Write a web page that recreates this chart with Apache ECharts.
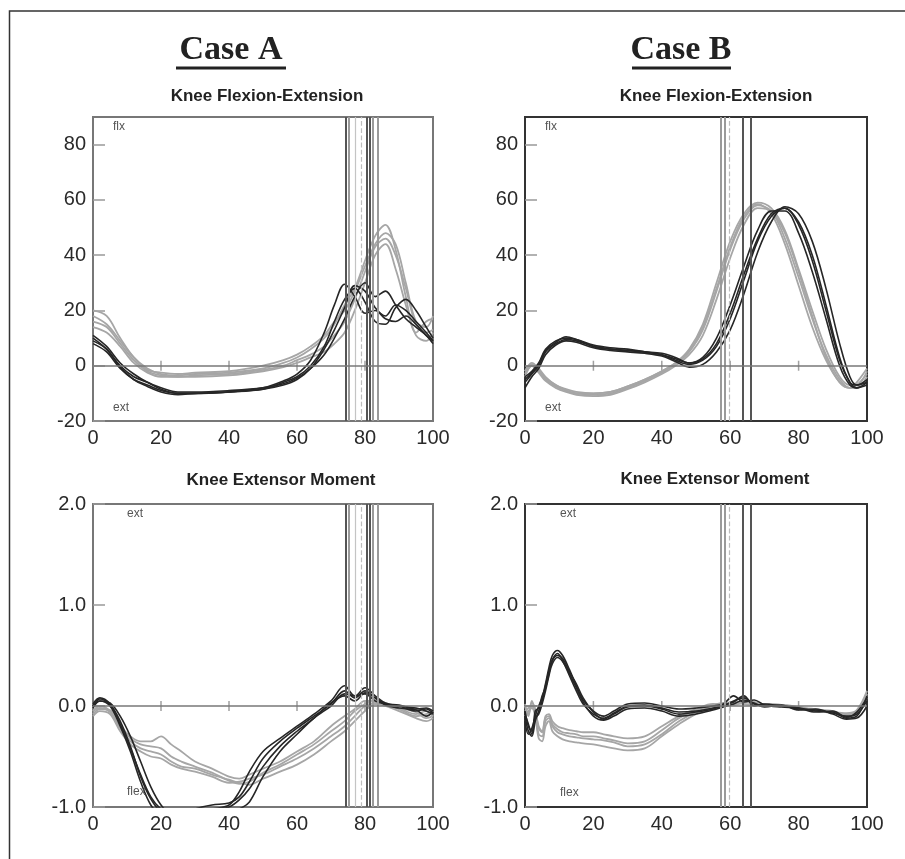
<!DOCTYPE html>
<html><head><meta charset="utf-8">
<script src="https://cdn.jsdelivr.net/npm/echarts@6/dist/echarts.min.js"></script>
<style>html,body{margin:0;padding:0;background:#fff}#c{width:905px;height:859px}</style>
</head><body><div id="c"></div>
<script>
// ---- Case A, Knee Flexion-Extension (deg) ----
const xA1 = [0,4,8,12,16,20,25,30,40,50,56,60,64,68,71,74,77,80,83,86,89,92,95,98,100];
const aFlexBlack1 = [10,6,0,-4,-6,-8.5,-10,-10,-9.5,-8,-5.5,-3,2,12,22,29.5,25,19,20,17,16,18,15,11,9];
const aFlexBlack2 = [8,5,-1,-5,-7,-9,-10,-10,-9.5,-8.5,-7,-5,-1,6,13,21,29,27,21,18,22,20,16,12,9];
const aFlexBlack3 = [11,7,1,-3,-6,-8,-9.5,-9.5,-9,-8,-6.5,-4.5,-1,4,10,17,25,30,25,27,22,17,14,11,8];
const aFlexBlack4 = [9,6,-0.5,-5,-7.5,-9.5,-10.5,-10,-9.5,-8.5,-6,-4,0,7,16,24,28,23,16,15,21,24,20,14,10];
const aFlexGray1 = [20,18,10,3,-1,-3,-3.5,-3,-2.5,-1,1,3,6,10,15,22,28,38,47,51,42,25,12,16,17];
const aFlexGray2 = [16,14,8,2,-2,-3.5,-4,-3.5,-3,-1.5,0,2,4,7,11,16,24,34,43,46,40,28,15,12,13];
const aFlexGray3 = [14,12,7,1,-2.5,-4,-4,-4,-3.5,-2,-0.5,1,3,5,8,12,20,30,40,44,35,22,11,9,12];
const aFlexGray4 = [18,15,9,3,-1.5,-2.5,-3,-2.5,-2,0,2,4,7,11,16,20,27,36,44,48,44,30,16,14,18];

// ---- Case B, Knee Flexion-Extension (deg) ----
const xB1 = [0,2,4,6,9,12,15,20,25,30,35,40,44,48,52,56,60,64,68,72,76,80,84,88,92,95,97,100];
const bFlexBlack1 = [-6,-3,0,5,8,9.5,9,7,6,5.5,5,4,2,0.5,2,7,17,31,45,54,57,52,40,22,3,-6,-7,-5];
const bFlexBlack2 = [-4,-2,1,6,9,10,9.5,7.5,6.5,6,5,4,2.5,1,3,10,22,36,49,56,56,48,34,17,0,-7,-8,-6];
const bFlexBlack3 = [-8,-4,-1,4,7.5,9,8.5,6.5,5.5,5,4.5,3.5,1.5,-0.5,0.5,5,13,26,41,52,57.5,55,45,28,8,-4,-7,-6];
const bFlexBlack4 = [-5,-2.5,0.5,5.5,8.5,10.5,9.5,7,6,5.5,5,4.5,3,1,2.5,8,19,33,46,55,57,51,38,20,2,-6,-8,-7];
const bFlexGray1 = [-3,0,-2,-5,-7.5,-9,-10,-10.5,-10,-8,-5.5,-2.5,0.5,5,13,27,42,53,58,56,46,32,17,4,-5,-8,-7,-3];
const bFlexGray2 = [-2,1,-1,-4,-7,-8.5,-9.5,-10,-9.5,-7.5,-5,-2,1,6,15,30,45,55,59,57,49,35,20,6,-4,-7,-7,-2];
const bFlexGray3 = [-4,0,-2.5,-5.5,-8,-9.5,-10.5,-11,-10.5,-8.5,-6,-3,0,4,11,24,39,51,57,56,48,34,18,3,-6,-8,-8,-4];
const bFlexGray4 = [-2,0.5,-1.5,-4.5,-7,-9,-10,-10,-9.5,-7.5,-5,-2,1,5.5,14,28,43,54,58.5,55,44,29,14,2,-6,-8,-6,-1];

// ---- Case A, Knee Extensor Moment ----
const xA2 = [0,2,5,8,11,14,17,20,23,26,30,35,40,43,46,50,55,60,65,70,74,77,80,83,86,90,95,98,100];
const aMomBlack1 = [0,0.05,0,-0.2,-0.45,-0.75,-0.98,-1.08,-1.1,-1.1,-1.05,-1.02,-0.98,-0.85,-0.65,-0.45,-0.32,-0.2,-0.08,0.05,0.2,0.1,0.12,0.05,0.02,0,-0.02,-0.05,-0.08];
const aMomBlack2 = [0.02,0.08,0.02,-0.15,-0.4,-0.7,-0.92,-1.05,-1.1,-1.08,-1.02,-0.98,-0.96,-0.9,-0.75,-0.52,-0.35,-0.22,-0.1,0.02,0.15,0.08,0.15,0.08,0.02,0.01,-0.03,-0.02,-0.05];
const aMomBlack3 = [-0.02,0.05,0.03,-0.1,-0.3,-0.55,-0.8,-0.98,-1.08,-1.1,-1.1,-1.08,-1.05,-1.02,-0.95,-0.7,-0.45,-0.28,-0.12,0,0.12,0.1,0.18,0.1,0.03,0,-0.05,-0.03,-0.07];
const aMomBlack4 = [0,0.07,0.01,-0.18,-0.42,-0.68,-0.9,-1.02,-1.06,-1.05,-1.04,-1.03,-1,-0.93,-0.82,-0.6,-0.4,-0.25,-0.12,0.03,0.1,0.05,0.13,0.08,0.01,-0.02,-0.04,-0.1,-0.06];
const aMomGray1 = [-0.05,0,-0.05,-0.2,-0.3,-0.35,-0.35,-0.3,-0.38,-0.45,-0.55,-0.62,-0.7,-0.72,-0.68,-0.62,-0.55,-0.45,-0.35,-0.2,-0.1,-0.03,0.05,0.05,0.02,-0.02,-0.08,-0.05,-0.1];
const aMomGray2 = [-0.1,-0.05,-0.08,-0.25,-0.38,-0.45,-0.5,-0.52,-0.58,-0.62,-0.65,-0.7,-0.76,-0.75,-0.72,-0.68,-0.6,-0.52,-0.42,-0.3,-0.2,-0.1,0,0.03,0,-0.05,-0.12,-0.15,-0.12];
const aMomGray3 = [-0.05,-0.02,-0.06,-0.22,-0.35,-0.42,-0.45,-0.48,-0.55,-0.6,-0.62,-0.68,-0.73,-0.76,-0.78,-0.72,-0.65,-0.58,-0.48,-0.35,-0.25,-0.15,-0.05,0.02,0.01,-0.03,-0.1,-0.08,-0.05];
const aMomGray4 = [-0.08,-0.03,-0.04,-0.18,-0.32,-0.38,-0.4,-0.42,-0.5,-0.55,-0.6,-0.66,-0.74,-0.77,-0.75,-0.66,-0.58,-0.48,-0.38,-0.25,-0.15,-0.05,0.02,0.06,0.03,-0.02,-0.06,-0.12,-0.1];

// ---- Case B, Knee Extensor Moment ----
const xB2 = [0,1,2,3,4,5,6,7,8,9.5,11,13,15,17,20,23,26,30,35,40,45,50,55,58,61,64,67,70,75,80,85,90,94,97,100];
const bMomBlack1 = [-0.1,-0.25,-0.3,-0.15,-0.05,0.05,0.2,0.35,0.46,0.52,0.45,0.3,0.15,0.02,-0.08,-0.12,-0.07,0,0.01,-0.02,-0.06,-0.05,-0.02,0,0.05,0.08,0.02,0,0,-0.03,-0.04,-0.07,-0.1,-0.08,0.05];
const bMomBlack2 = [-0.05,-0.2,-0.25,-0.1,0,0.08,0.22,0.38,0.5,0.55,0.5,0.36,0.2,0.06,-0.05,-0.1,-0.05,0.02,0.03,0,-0.03,-0.02,0,0.02,0.1,0.04,0.06,0.01,-0.01,-0.02,-0.05,-0.06,-0.12,-0.1,0.1];
const bMomBlack3 = [-0.15,-0.28,-0.22,-0.12,-0.08,0.02,0.15,0.3,0.42,0.48,0.44,0.32,0.18,0.04,-0.1,-0.14,-0.1,-0.03,-0.02,-0.05,-0.1,-0.08,-0.04,-0.01,0.02,0.06,0.03,-0.01,0.01,-0.04,-0.03,-0.08,-0.13,-0.12,0];
const bMomBlack4 = [-0.08,-0.18,-0.28,-0.05,-0.02,0.1,0.18,0.32,0.45,0.5,0.47,0.34,0.22,0.08,-0.06,-0.13,-0.08,-0.01,0,-0.03,-0.08,-0.06,-0.03,0.01,0.04,0.1,0,0.02,0,-0.02,-0.06,-0.05,-0.11,-0.06,0.08];
const bMomGray1 = [0,-0.1,0.05,-0.05,-0.2,-0.25,-0.1,-0.08,-0.15,-0.2,-0.22,-0.24,-0.25,-0.26,-0.26,-0.28,-0.3,-0.32,-0.3,-0.2,-0.1,-0.03,0.02,0.01,0.02,0.05,0.03,0.02,0,-0.02,-0.03,-0.06,-0.08,-0.05,0.1];
const bMomGray2 = [-0.05,-0.02,0,-0.08,-0.28,-0.3,-0.15,-0.12,-0.2,-0.26,-0.28,-0.3,-0.31,-0.32,-0.33,-0.34,-0.36,-0.4,-0.38,-0.28,-0.15,-0.06,0,0.02,0.04,0.02,0.01,0.02,0.01,-0.03,-0.04,-0.05,-0.1,-0.08,0.12];
const bMomGray3 = [-0.1,-0.05,-0.02,-0.1,-0.32,-0.35,-0.2,-0.15,-0.25,-0.3,-0.33,-0.35,-0.36,-0.37,-0.38,-0.4,-0.42,-0.44,-0.42,-0.3,-0.18,-0.08,-0.02,0,0.03,0.04,0.02,0,0,-0.02,-0.05,-0.07,-0.09,-0.06,0.08];
const bMomGray4 = [0.02,-0.08,0.03,-0.03,-0.22,-0.26,-0.12,-0.1,-0.18,-0.23,-0.26,-0.27,-0.28,-0.3,-0.3,-0.32,-0.34,-0.37,-0.35,-0.24,-0.12,-0.04,0.01,0.03,0.01,0.03,0.04,0.01,0.01,-0.01,-0.04,-0.06,-0.07,-0.04,0.15];

// ---- Gait event lines (% of cycle) ----
const eventsA = [74.2, 75.3, 77.2, 78.8, 80.5, 81.3, 82.2, 83.8];
const eventKindsA = ['dark','gray','light','dashed','dark','dark','gray','gray'];
const eventsB = [57.3, 58.3, 59.6, 63.6, 66.0];
const eventKindsB = ['gray','gray','dashed','dark','dark'];

// ---- Tick labels / axis ranges ----
const flexRange = [-20, 90, 20];
const momRange = [-1, 2, 1];
const zeroTicks = [20, 40, 60, 80];

const panelTitles = ['Knee Flexion-Extension','Knee Flexion-Extension','Knee Extensor Moment','Knee Extensor Moment'];
const caseTitles = ['Case A','Case B'];

// ---------------------------------------------------------
const BLACK = '#262626', GRAY = '#a6a6a6';
const evStyle = {
  dark:   {color:'#555', width:2, type:'solid'},
  gray:   {color:'#9a9a9a', width:2, type:'solid'},
  light:  {color:'#c4c4c4', width:1.2, type:'solid'},
  dashed: {color:'#bdbdbd', width:1.2, type:'dashed'}
};

const panels = [
  {x:xA1, black:[aFlexBlack1,aFlexBlack2,aFlexBlack3,aFlexBlack4], gray:[aFlexGray1,aFlexGray2,aFlexGray3,aFlexGray4], ev:eventsA, evk:eventKindsA},
  {x:xB1, black:[bFlexBlack1,bFlexBlack2,bFlexBlack3,bFlexBlack4], gray:[bFlexGray1,bFlexGray2,bFlexGray3,bFlexGray4], ev:eventsB, evk:eventKindsB},
  {x:xA2, black:[aMomBlack1,aMomBlack2,aMomBlack3,aMomBlack4], gray:[aMomGray1,aMomGray2,aMomGray3,aMomGray4], ev:eventsA, evk:eventKindsA},
  {x:xB2, black:[bMomBlack1,bMomBlack2,bMomBlack3,bMomBlack4], gray:[bMomGray1,bMomGray2,bMomGray3,bMomGray4], ev:eventsB, evk:eventKindsB}
];

const gridBoxes = [
  {left:93, top:117, width:340, height:304, borderColor:'#777'},
  {left:525, top:117, width:342, height:304, borderColor:'#333'},
  {left:93, top:504, width:340, height:303, borderColor:'#777'},
  {left:525, top:504, width:342, height:303, borderColor:'#333'}
];

const labelFont = {fontSize:20, color:'#2a2a2a', fontFamily:'"Liberation Sans", Arial, sans-serif'};

const option = {
  animation:false,
  backgroundColor:'#fff',
  grid: gridBoxes.map(g => ({left:g.left, top:g.top, width:g.width, height:g.height, show:true, borderColor:g.borderColor, borderWidth:2, backgroundColor:'transparent'})),
  xAxis: gridBoxes.map((g,i) => ({
    type:'value', gridIndex:i, min:0, max:100, interval:20,
    axisLine:{show:false}, axisTick:{show:false}, splitLine:{show:false},
    axisLabel:Object.assign({margin:7}, labelFont)
  })),
  yAxis: gridBoxes.map((g,i) => {
    const r = i < 2 ? flexRange : momRange;
    return {
      type:'value', gridIndex:i, min:r[0], max:r[1], interval:r[2],
      axisLine:{show:false}, splitLine:{show:false},
      axisTick:{show:true, inside:true, length:12, lineStyle:{color:'#999', width:1.5}},
      axisLabel:Object.assign({margin:7, showMaxLabel: i < 2 ? false : true,
        formatter: v => i < 2 ? String(v) : v.toFixed(1)}, labelFont)
    };
  }),
  series: [],
  graphic: []
};

panels.forEach((p, i) => {
  option.series.push({
    type:'line', xAxisIndex:i, yAxisIndex:i, data:[], silent:true, z:1,
    markLine:{
      silent:true, symbol:'none', label:{show:false}, animation:false,
      data: p.ev.map((v,k) => ({xAxis:v, lineStyle:evStyle[p.evk[k]]}))
        .concat([{yAxis:0, lineStyle:{color:'#777', width:1.5, type:'solid'}}])
    }
  });
  option.series.push({
    type:'scatter', xAxisIndex:i, yAxisIndex:i, silent:true, z:2,
    symbol:'rect', symbolSize:[1.5,10], itemStyle:{color:'#888'},
    data: zeroTicks.map(t => [t, 0])
  });
  p.gray.forEach(tr => option.series.push({
    type:'line', xAxisIndex:i, yAxisIndex:i, showSymbol:false, smooth:0.35, silent:true, z:3,
    lineStyle:{color:GRAY, width:1.8}, data: p.x.map((xv,k) => [xv, tr[k]])
  }));
  p.black.forEach(tr => option.series.push({
    type:'line', xAxisIndex:i, yAxisIndex:i, showSymbol:false, smooth:0.35, silent:true, z:4,
    lineStyle:{color:BLACK, width:1.6}, data: p.x.map((xv,k) => [xv, tr[k]])
  }));
});

function txt(x, y, text, font, fill, align) {
  return {type:'text', x:x, y:y, silent:true, z:10,
    style:{text:text, font:font, fill:fill||'#222', align:align||'center', verticalAlign:'middle',
           textAlign:align||'center', textVerticalAlign:'middle'}};
}
const g = option.graphic;
g.push({type:'polyline', silent:true, shape:{points:[[905,11],[9.5,11],[9.5,859]]}, style:{stroke:'#333', lineWidth:1.5, fill:null}});
g.push(txt(231, 50, caseTitles[0], 'bold 34px "Liberation Serif", "Times New Roman", serif'));
g.push({type:'line', silent:true, shape:{x1:176,y1:68,x2:286,y2:68}, style:{stroke:'#222', lineWidth:3}});
g.push(txt(681, 50, caseTitles[1], 'bold 34px "Liberation Serif", "Times New Roman", serif'));
g.push({type:'line', silent:true, shape:{x1:632,y1:68,x2:731,y2:68}, style:{stroke:'#222', lineWidth:3}});
const sub = 'bold 17px "Liberation Sans", Arial, sans-serif';
g.push(txt(267, 96, panelTitles[0], sub));
g.push(txt(716, 96, panelTitles[1], sub));
g.push(txt(281, 480, panelTitles[2], sub));
g.push(txt(715, 479, panelTitles[3], sub));
const sm = '12px "Liberation Sans", Arial, sans-serif';
g.push(txt(113, 127, 'flx', sm, '#555', 'left'));
g.push(txt(113, 408, 'ext', sm, '#555', 'left'));
g.push(txt(545, 127, 'flx', sm, '#555', 'left'));
g.push(txt(545, 408, 'ext', sm, '#555', 'left'));
g.push(txt(127, 514, 'ext', sm, '#555', 'left'));
g.push(txt(127, 792, 'flex', sm, '#555', 'left'));
g.push(txt(560, 514, 'ext', sm, '#555', 'left'));
g.push(txt(560, 793, 'flex', sm, '#555', 'left'));

const chart = echarts.init(document.getElementById('c'), null, {renderer:'canvas'});
chart.setOption(option);
</script>
</body></html>
